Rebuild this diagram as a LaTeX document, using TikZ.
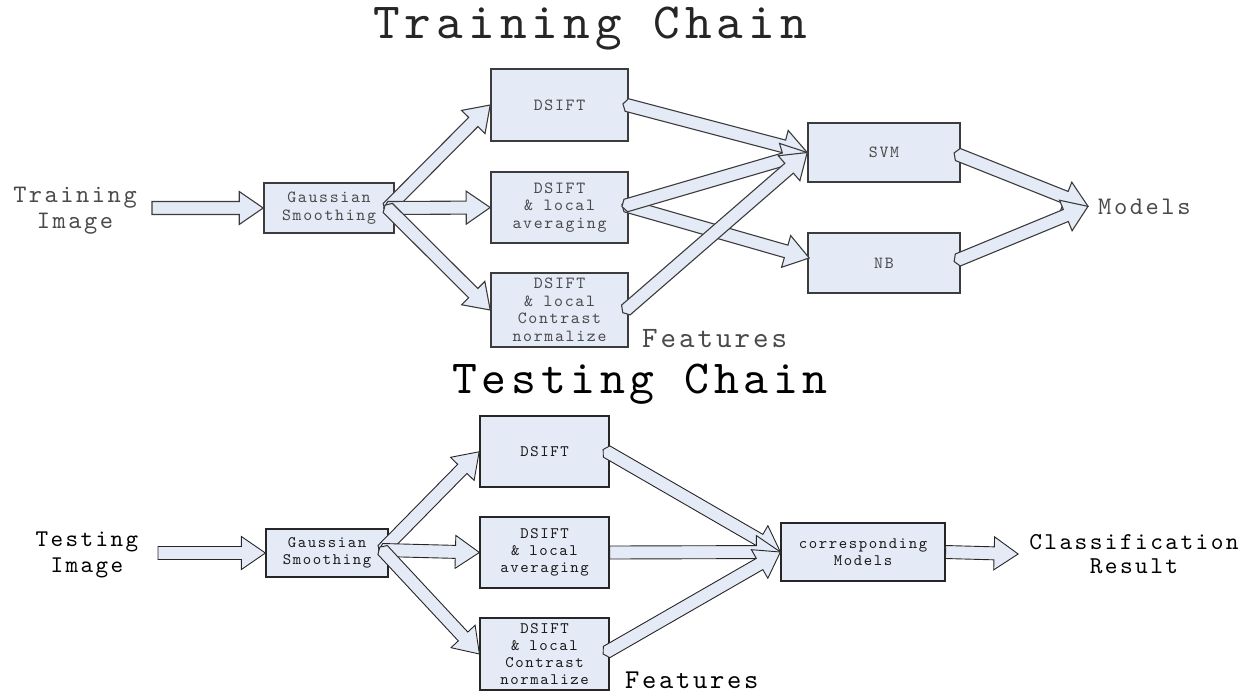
\documentclass[tikz,border=0pt]{standalone}
\usepackage{fontspec}
\usetikzlibrary{calc}
\newfontfamily\lmmono{lmmono10-regular.otf}[LetterSpace=10]
\definecolor{boxfill}{HTML}{E4EAF6}
\definecolor{edgegray}{HTML}{3C3C3C}
\definecolor{softtext}{HTML}{4A4A4A}
\newcommand\mfont[2]{\lmmono\fontsize{#1}{#2}\selectfont}

% block arrow from #2 to #3, style #1 (tailpoint = how far the tail pokes back)
\newcommand\blockarrow[3][]{%
  \path[arrowbody,#1] let \p1=(#2), \p2=(#3),
    \n1={atan2(\y2-\y1,\x2-\x1)}, \n2={veclen(\x2-\x1,\y2-\y1)} in
    [shift={(\p1)}, rotate=\n1]
    (-\tailpt,0) -- (0,6.5) -- (\n2-24,6.5) -- (\n2-24,16.5) -- (\n2,0)
    -- (\n2-24,-16.5) -- (\n2-24,-6.5) -- (0,-6.5) -- cycle;}

\tikzset{
  tailpoint/.store in=\tailpt, tailpoint=4,
  arrowbody/.style={draw=edgegray, fill=boxfill, line width=1.1pt, line join=miter},
  trbox/.style={draw=edgegray, fill=boxfill, line width=1.6pt, inner sep=0pt,
    align=center, text=softtext, font=\mfont{17}{17.5}},
  tsbox/.style={draw=black!85, fill=boxfill, line width=1.2pt, inner sep=0pt,
    align=center, text=black!90, font=\mfont{16}{17}},
  label/.style={inner sep=0pt, align=center},
}

\begin{document}
\begin{tikzpicture}[x=1pt,y=-1pt]
\useasboundingbox (0,0) rectangle (1249,694);

% ---------------- training chain ----------------
\node[label, anchor=base, text=black!85, font=\mfont{50.7}{54}] (ttitle) at (590,38) {Training Chain};
\node[label, text=softtext, font=\mfont{25.2}{26}] (timg) at (75,211) {Training\\Image};
\coordinate (tin) at (152,208);

\node[trbox, minimum width=130pt, minimum height=50pt] (tgauss) at (329,208) {Gaussian\\Smoothing};
\node[trbox, minimum width=137pt, minimum height=72pt] (tds1) at (559.5,105) {DSIFT};
\node[trbox, minimum width=137pt, minimum height=71pt] (tds2) at (559.5,207.5) {DSIFT\\\& local\\averaging};
\node[trbox, minimum width=137pt, minimum height=74pt] (tds3) at (559.5,310) {DSIFT\\\& local\\Contrast\\normalize};
\node[label, anchor=base west, text=softtext, font=\mfont{29.6}{30}] (tfeat) at (642,347) {Features};

\node[trbox, minimum width=152pt, minimum height=59pt] (svm) at (884,152.5) {SVM};
\node[trbox, minimum width=152pt, minimum height=60pt] (nb) at (884,263) {NB};
\node[label, anchor=base west, text=softtext, font=\mfont{25.3}{26}] (models) at (1098,214) {Models};

\blockarrow[tailpoint=0]{tin}{tgauss.west}
\blockarrow{$(tgauss.east)+(-7,0)$}{tds1.west}
\blockarrow{$(tgauss.east)+(-7,0)$}{tds2.west}
\blockarrow{$(tgauss.east)+(-7,0)$}{tds3.west}
\blockarrow{$(tds1.east)+(-2,0)$}{svm.west}
\blockarrow{$(tds2.east)+(-3,-2)$}{$(nb.west)+(2,-5)$}
\blockarrow{$(tds2.east)+(-3,-2)$}{svm.west}
\blockarrow{$(tds3.east)+(-3,0)$}{svm.west}
\blockarrow{$(svm.east)+(-3,2)$}{$(models.west)+(-10,0)$}
\blockarrow{$(nb.east)+(-3,-3)$}{$(models.west)+(-10,0)$}

% ---------------- testing chain ----------------
\node[label, anchor=base, text=black, font=\mfont{47.4}{50}] (stitle) at (640,393) {Testing Chain};
\node[label, text=black, font=\mfont{24}{26}] (simg) at (87,554.5) {Testing\\Image};
\coordinate (sin) at (158,553);

\node[tsbox, minimum width=122pt, minimum height=48pt] (sgauss) at (327,553) {Gaussian\\Smoothing};
\node[tsbox, minimum width=129pt, minimum height=71pt] (sds1) at (544.5,451.5) {DSIFT};
\node[tsbox, minimum width=129pt, minimum height=71pt] (sds2) at (544.5,552.5) {DSIFT\\\& local\\averaging};
\node[tsbox, minimum width=129pt, minimum height=72pt] (sds3) at (544.5,654) {DSIFT\\\& local\\Contrast\\normalize};
\node[label, anchor=base west, text=black, font=\mfont{27.2}{28}] (sfeat) at (625,688) {Features};

\node[tsbox, minimum width=164pt, minimum height=58pt] (corr) at (863,552) {corresponding\\Models};
\node[label, text=black, font=\mfont{24.2}{24}] (result) at (1134,554) {Classification\\Result};

\tikzset{arrowbody/.append style={draw=black!85, line width=0.9pt}}
\blockarrow[tailpoint=0]{sin}{sgauss.west}
\blockarrow{$(sgauss.east)+(-6,-3)$}{sds1.west}
\blockarrow{$(sgauss.east)+(-6,-3)$}{sds2.west}
\blockarrow{$(sgauss.east)+(-6,-3)$}{sds3.west}
\blockarrow{$(sds1.east)+(-3,0)$}{corr.west}
\blockarrow[tailpoint=0]{sds2.east}{corr.west}
\blockarrow{$(sds3.east)+(-3,-2)$}{corr.west}
\blockarrow[tailpoint=0]{corr.east}{$(result.west)+(-11,0)$}
\end{tikzpicture}
\end{document}
